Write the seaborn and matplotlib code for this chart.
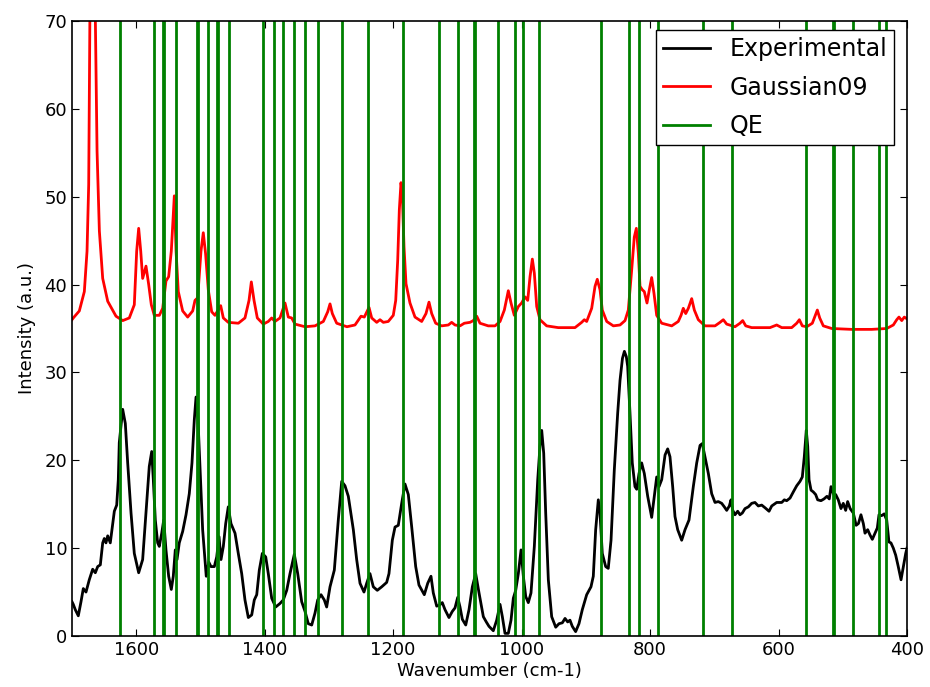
import matplotlib
matplotlib.use("Agg")
import matplotlib.pyplot as plt
import seaborn as sns
import pandas as pd

# ---- data ----
exp_wavenumber = [1700, 1698, 1694.9, 1690.2, 1686, 1682.4, 1678.2, 1673.1, 1667.8, 1663.7, 1660, 1655.9,
    1652.2, 1649.7, 1647.1, 1644.4, 1640.4, 1636.6, 1634.1, 1630.4, 1627.9, 1626.4, 1621.1, 1617,
    1613.3, 1608.1, 1603, 1596.2, 1590, 1584.8, 1579.7, 1575.9, 1573.4, 1570.3, 1566.6, 1564.1,
    1560.3, 1557.2, 1553.7, 1549.5, 1545.4, 1542.3, 1539.2, 1536.5, 1533, 1527.7, 1522.5, 1517.4,
    1513.2, 1509.6, 1506.9, 1504.3, 1500.7, 1496.6, 1491, 1487, 1483.6, 1478.4, 1474.7, 1471.1,
    1468, 1464.4, 1460.7, 1456.7, 1452.5, 1446.2, 1441.1, 1435.8, 1430.7, 1425.5, 1420.2, 1416.2,
    1412.4, 1408.4, 1403.7, 1398.4, 1394.4, 1389.1, 1382.9, 1376.2, 1371.1, 1365.7, 1360.6, 1353.9,
    1348.6, 1342.4, 1337.2, 1332.1, 1326.8, 1321.7, 1317.5, 1312.3, 1307.2, 1303.5, 1298.3, 1291.6,
    1285.4, 1280.1, 1275, 1269.8, 1262, 1256.8, 1251.6, 1245.4, 1241.2, 1236.1, 1230.9, 1224.7,
    1217.8, 1210.1, 1206.5, 1201.3, 1197.1, 1192, 1186.7, 1181.6, 1176.4, 1171.1, 1164.9, 1159.8,
    1151.5, 1146.2, 1141.1, 1137.5, 1132.2, 1128.1, 1123.5, 1119.3, 1113.1, 1107.9, 1103.7, 1099.5,
    1095.9, 1092.3, 1087, 1081.9, 1076.7, 1071.5, 1066.3, 1059.6, 1055, 1050.8, 1044.1, 1038.8,
    1033.6, 1030, 1025.9, 1020.7, 1016.5, 1012.9, 1009.2, 1005.1, 1000.9, 997.3, 993.6, 989.6,
    985.4, 980.2, 974.9, 971.4, 968.7, 965.6, 962.5, 958.4, 953.2, 946.9, 941.8, 936.6,
    932.4, 928.3, 924.7, 921.1, 915.9, 910.7, 905.5, 898.7, 892, 888.4, 884.7, 880.6,
    878, 874.4, 869.1, 865.1, 860.8, 855.7, 850.4, 846.8, 843, 840, 837, 834.9,
    831.3, 827.7, 823.5, 820.8, 817.2, 813.1, 809, 803.7, 797.5, 793.4, 789.7, 786.1,
    781.9, 776.7, 772.6, 769, 764.8, 761.2, 757, 750.8, 745.6, 739.4, 732.7, 727.4,
    722.2, 718.7, 714.5, 709.3, 704.1, 698.9, 693.8, 688.5, 684.4, 680.7, 676.6, 674,
    671.3, 667.8, 663.6, 660, 656.4, 652.2, 647, 641.8, 636.7, 631.5, 626.2, 621.1,
    614.8, 610.6, 602.9, 595, 591, 587.3, 582.1, 577, 571.7, 566.6, 563, 559.9,
    556.8, 554.6, 552.5, 549.4, 545.9, 542.2, 539.1, 533.9, 529.3, 524.6, 521, 518.3,
    514.7, 511, 507, 502.8, 499.2, 495.5, 492.4, 488.5, 483.6, 479.2, 475.6, 471.7,
    468, 465.4, 461.2, 457.6, 454, 449.8, 446.2, 443.6, 439.5, 435.5, 431.6, 428.1,
    425, 421.3, 417.6, 413.6, 409.3, 405.7, 402, 400]
exp_intensity = [3.9, 3.6, 3.0, 2.3, 3.9, 5.4, 5.0, 6.4, 7.6, 7.2, 7.9, 8.1,
    10.6, 11.1, 10.6, 11.4, 10.6, 12.8, 14.2, 14.9, 17.8, 22.0, 25.8, 24.2,
    19.7, 14.0, 9.4, 7.2, 8.7, 14.0, 19.3, 21.0, 17.8, 13.2, 10.6, 10.2,
    11.7, 13.2, 9.8, 6.8, 5.3, 6.8, 9.8, 8.7, 10.6, 11.9, 13.8, 16.2,
    19.7, 24.6, 27.2, 25.4, 19.3, 12.1, 6.8, 8.4, 7.9, 7.9, 9.0, 11.3,
    8.7, 10.2, 12.8, 14.7, 12.8, 11.7, 9.4, 7.1, 4.1, 2.1, 2.4, 4.1,
    4.7, 7.5, 9.4, 9.0, 7.1, 4.3, 3.3, 3.7, 4.1, 5.2, 7.1, 9.3,
    7.1, 3.9, 2.8, 1.4, 1.25, 2.6, 4.1, 4.7, 4.1, 3.3, 5.6, 7.5,
    13.2, 17.6, 17.1, 15.9, 12.1, 8.7, 6.0, 5.0, 6.0, 7.1, 5.6, 5.2,
    5.6, 6.1, 7.1, 10.9, 12.4, 12.6, 15.1, 17.3, 16.1, 12.4, 7.9, 5.8,
    4.7, 6.0, 6.8, 4.9, 3.4, 3.5, 3.8, 3.0, 2.1, 2.8, 3.2, 4.4,
    3.3, 1.9, 1.25, 3.0, 5.6, 7.1, 4.9, 2.2, 1.6, 1.1, 0.6, 1.8,
    3.6, 2.2, 0.3, 0.3, 1.8, 4.3, 5.2, 7.1, 9.8, 6.8, 4.5, 3.8,
    4.9, 10.2, 17.8, 21.6, 23.4, 20.8, 14.0, 6.4, 2.2, 1.0, 1.4, 1.5,
    2.0, 1.6, 1.8, 1.1, 0.5, 1.4, 3.0, 4.7, 5.6, 6.8, 12.1, 15.5,
    14.0, 9.4, 7.9, 7.7, 10.9, 18.9, 25.4, 29.1, 31.6, 32.4, 31.8, 30.7,
    25.4, 19.7, 17.0, 16.7, 18.5, 19.7, 18.5, 15.9, 13.5, 15.9, 18.1, 17.0,
    17.8, 20.6, 21.3, 20.4, 17.0, 13.6, 12.1, 10.9, 12.1, 13.2, 17.0, 19.7,
    21.7, 21.9, 20.4, 18.5, 16.2, 15.2, 15.3, 15.1, 14.7, 14.3, 14.8, 15.5,
    14.3, 13.8, 14.2, 13.8, 14.0, 14.5, 14.7, 15.1, 15.2, 14.8, 14.9, 14.6,
    14.2, 14.8, 15.2, 15.2, 15.5, 15.4, 15.7, 16.4, 17.1, 17.6, 18.1, 20.4,
    23.4, 21.6, 17.8, 16.6, 16.4, 16.1, 15.5, 15.4, 15.6, 15.9, 15.6, 17.0,
    16.2, 16.1, 15.5, 14.5, 15.1, 14.3, 15.3, 14.5, 14.0, 12.6, 12.8, 13.8,
    12.8, 11.7, 12.1, 11.5, 11.0, 11.7, 12.3, 13.8, 13.7, 13.9, 13.2, 10.7,
    10.6, 10.0, 9.2, 7.9, 6.4, 7.9, 9.4, 10.0]

g09_wavenumber = [1700, 1698, 1688.6, 1680.8, 1676.6, 1674, 1672, 1668, 1664, 1661, 1657.4, 1652.2,
    1644.4, 1631.5, 1621, 1610.8, 1603, 1599.3, 1596.2, 1593, 1590, 1584.8, 1580.6, 1576.5,
    1571.9, 1564, 1558.8, 1553.7, 1549.5, 1545.4, 1540.7, 1538, 1534.5, 1527.7, 1519.9, 1512.1,
    1508.5, 1504.3, 1499.2, 1495.6, 1492, 1487.8, 1482.5, 1477.4, 1468.5, 1464.4, 1456.7, 1441,
    1430.7, 1424.4, 1420.8, 1416.6, 1411.5, 1402.2, 1394.4, 1389.1, 1384, 1376.2, 1368.4, 1363.2,
    1358, 1352.8, 1337.2, 1321.7, 1308.7, 1301.9, 1298.3, 1294.7, 1287.9, 1272, 1259.4, 1250,
    1244.9, 1237.6, 1233.4, 1225.6, 1220.5, 1215.3, 1207.6, 1199.8, 1196, 1192.9, 1190.4, 1187.8,
    1185.8, 1183.1, 1180, 1173.8, 1166, 1155.6, 1148.9, 1144.2, 1140, 1133.8, 1124.4, 1114.1,
    1108.9, 1103.7, 1095.9, 1089.2, 1080.3, 1075.2, 1069.9, 1064.8, 1052, 1041.4, 1033.6, 1026.9,
    1020.7, 1016.5, 1011.4, 1005.1, 1000, 994.7, 990.5, 986.9, 983.3, 980.2, 976.5, 971.4,
    961, 942.9, 916.9, 906.5, 902.4, 898.7, 890.9, 885.7, 882.2, 877.9, 874.4, 867.5,
    857.2, 846.8, 839, 833.9, 828.6, 824.6, 821.4, 818.3, 815.7, 812.1, 809, 804.8,
    801.2, 797.5, 793.9, 789.7, 781.9, 766.3, 756.1, 751.8, 748.3, 744.5, 740.4, 735.2,
    731.1, 724.9, 714.5, 698.9, 691.1, 686, 680.7, 667.8, 660, 655.8, 651.1, 641.8,
    613.3, 602.9, 595, 579.5, 571.7, 567.6, 563, 556.1, 547.4, 543.2, 539.6, 535.9,
    530.3, 517.2, 486.1, 454.9, 431.6, 421.3, 416, 412.5, 408.2, 404.2, 400]
g09_intensity = [36.0, 36.2, 37.0, 39.2, 43.8, 51.4, 72.0, 120.0, 72.0, 55.2, 46.1, 40.7,
    38.1, 36.4, 35.9, 36.2, 37.7, 43.8, 46.4, 43.8, 40.7, 42.1, 40.0, 37.7,
    36.5, 36.5, 37.3, 40.4, 40.9, 43.8, 50.1, 43.8, 39.2, 37.0, 36.3, 37.0,
    38.2, 38.5, 43.8, 45.9, 43.5, 39.4, 36.9, 36.5, 37.6, 36.2, 35.7, 35.6,
    36.2, 38.2, 40.3, 38.2, 36.2, 35.5, 35.8, 36.2, 35.8, 36.2, 37.9, 36.3,
    36.2, 35.5, 35.2, 35.3, 35.8, 36.9, 37.8, 36.7, 35.6, 35.2, 35.4, 36.4,
    36.3, 37.4, 36.2, 35.7, 36.0, 35.7, 35.8, 36.5, 38.2, 42.8, 48.5, 51.6,
    50.4, 44.3, 40.1, 37.9, 36.3, 35.8, 36.7, 38.0, 36.7, 35.6, 35.3, 35.4,
    35.7, 35.4, 35.3, 35.6, 35.7, 35.9, 36.4, 35.6, 35.3, 35.3, 35.8, 37.1,
    39.3, 37.9, 36.5, 37.5, 37.9, 38.6, 38.2, 40.9, 42.9, 41.3, 37.5, 36.0,
    35.3, 35.1, 35.1, 35.7, 36.0, 35.8, 37.3, 39.8, 40.6, 39.4, 37.1, 35.8,
    35.3, 35.4, 35.9, 37.1, 41.7, 45.4, 46.4, 43.6, 39.8, 39.4, 39.2, 37.9,
    39.4, 40.8, 39.0, 36.5, 35.6, 35.3, 35.8, 36.5, 37.3, 36.7, 37.3, 38.4,
    37.1, 36.0, 35.3, 35.3, 35.7, 36.0, 35.5, 35.2, 35.6, 35.9, 35.3, 35.1,
    35.1, 35.4, 35.1, 35.1, 35.6, 36.0, 35.3, 35.2, 35.6, 36.4, 37.1, 36.2,
    35.3, 35.0, 34.9, 34.9, 35.0, 35.4, 36.0, 36.3, 35.9, 36.3, 36.1]

qe_wavenumber = [1625, 1573, 1559, 1557.5, 1538, 1506, 1504.5, 1489, 1474, 1472.5, 1456, 1402,
    1386, 1372, 1355, 1337, 1317, 1279, 1239, 1184, 1128, 1099, 1074, 1072.5,
    1037, 1010, 998, 973, 876, 833, 818, 787, 717, 672, 558, 515, 513.5,
    484, 444, 432]

x_ticks = [1600, 1400, 1200, 1000, 800, 600, 400]
y_ticks = [0, 10, 20, 30, 40, 50, 60, 70]

exp_df = pd.DataFrame({"wavenumber": exp_wavenumber, "intensity": exp_intensity})
g09_df = pd.DataFrame({"wavenumber": g09_wavenumber, "intensity": g09_intensity})

plt.rcParams.update({
    "font.family": ["DejaVu Sans"],
    "xtick.direction": "in",
    "ytick.direction": "in",
    "xtick.top": True,
    "ytick.right": True,
    "xtick.major.size": 5,
    "ytick.major.size": 5,
    "axes.linewidth": 1.2,
})

fig = plt.figure(figsize=(9.3, 6.87), dpi=100)
fig.patch.set_facecolor("white")
ax = fig.add_axes([72 / 930, 51 / 687, 835 / 930, 615 / 687])

sns.lineplot(data=exp_df, x="wavenumber", y="intensity", ax=ax, color="black",
             linewidth=2, estimator=None, label="Experimental")
sns.lineplot(data=g09_df, x="wavenumber", y="intensity", ax=ax, color="red",
             linewidth=2, estimator=None, label="Gaussian09")
for i, w in enumerate(qe_wavenumber):
    ax.axvline(w, color="green", linewidth=2, label="QE" if i == 0 else None)

ax.set_xlim(1700, 400)
ax.set_ylim(0, 70)
ax.set_xticks(x_ticks)
ax.set_yticks(y_ticks)
ax.tick_params(labelsize=13)
ax.set_xlabel("Wavenumber (cm-1)", fontsize=13, labelpad=2)
ax.set_ylabel("Intensity (a.u.)", fontsize=13, labelpad=6)

leg = ax.legend(loc="upper right", fontsize=17, fancybox=False, framealpha=1,
                edgecolor="black", borderaxespad=0, borderpad=0.3, labelspacing=0.62,
                bbox_to_anchor=(894 / 930, 1 - 30 / 687), bbox_transform=fig.transFigure)
leg.get_frame().set_linewidth(1.0)

fig.savefig("out.png", dpi=100, facecolor="white")
